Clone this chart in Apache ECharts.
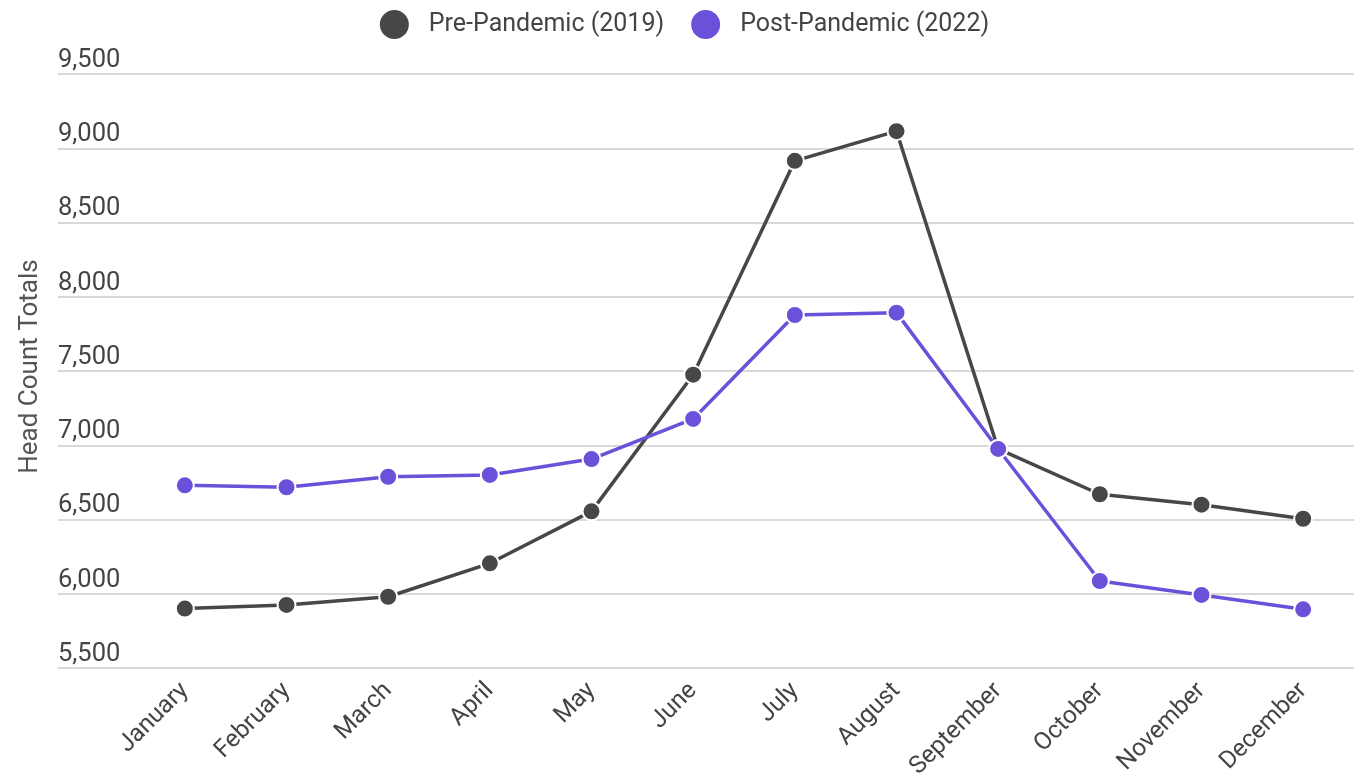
<!DOCTYPE html>
<html>
<head>
<meta charset="utf-8">
<script src="https://cdn.jsdelivr.net/npm/echarts@6/dist/echarts.min.js"></script>
<style>html,body{margin:0;padding:0;background:#fff;}#chart{width:1367px;height:783px;}</style>
</head>
<body>
<div id="chart"></div>
<script>
const months = ['January','February','March','April','May','June','July','August','September','October','November','December'];
const pre2019 = [5900, 5925, 5980, 6205, 6555, 7475, 8915, 9115, 6975, 6670, 6600, 6505];
const post2022 = [6730, 6717, 6788, 6800, 6907, 7177, 7877, 7893, 6975, 6086, 5992, 5895];
const yMin = 5500, yMax = 9500, yStep = 500;

const textColor = '#444444';
const chart = echarts.init(document.getElementById('chart'));
chart.setOption({
  animation: false,
  textStyle: { fontFamily: 'Roboto' },
  legend: {
    top: 3, left: 'center',
    icon: 'circle', itemWidth: 31, itemHeight: 31, itemGap: 25,
    textStyle: { fontSize: 25, color: textColor, fontFamily: 'Roboto', padding: [0, 0, 0, 14] },
    data: ['Pre-Pandemic (2019)', 'Post-Pandemic (2022)']
  },
  grid: [
    { left: 58, right: 13, top: 74, bottom: 115 },
    { left: 134, right: 13, top: 74, bottom: 115 }
  ],
  xAxis: [
    { gridIndex: 0, type: 'value', show: false },
    {
      gridIndex: 1, type: 'category', data: months, boundaryGap: true,
      axisLine: { show: false }, axisTick: { show: false },
      axisLabel: { rotate: 45, margin: 19, fontSize: 24.5, color: textColor, fontFamily: 'Roboto' }
    }
  ],
  yAxis: [
    {
      gridIndex: 0, type: 'value', min: yMin, max: yMax, interval: yStep,
      name: 'Head Count Totals', nameLocation: 'middle', nameGap: 15,
      nameTextStyle: { fontSize: 26, color: '#555555', fontFamily: 'Roboto', padding: [0, 0, 0, 9] },
      axisLine: { show: false }, axisTick: { show: false },
      axisLabel: {
        inside: true, margin: 0, fontSize: 25.5, color: textColor, fontFamily: 'Roboto',
        verticalAlign: 'bottom', align: 'left', lineHeight: 25, padding: [0, 0, 1, 0],
        formatter: v => v.toLocaleString('en-US')
      },
      splitLine: { lineStyle: { color: '#d9d9d9', width: 2 } }
    },
    { gridIndex: 1, type: 'value', min: yMin, max: yMax, interval: yStep, show: false, splitLine: { show: false } }
  ],
  series: [
    {
      name: 'Pre-Pandemic (2019)', type: 'line', xAxisIndex: 1, yAxisIndex: 1, data: pre2019,
      symbol: 'circle', symbolSize: 18,
      lineStyle: { color: '#474747', width: 3.5 },
      itemStyle: { color: '#474747', borderColor: '#fff', borderWidth: 2 }
    },
    {
      name: 'Post-Pandemic (2022)', type: 'line', xAxisIndex: 1, yAxisIndex: 1, data: post2022,
      symbol: 'circle', symbolSize: 18,
      lineStyle: { color: '#6b50d9', width: 3.5 },
      itemStyle: { color: '#6b50d9', borderColor: '#fff', borderWidth: 2 }
    }
  ]
});
</script>
</body>
</html>
